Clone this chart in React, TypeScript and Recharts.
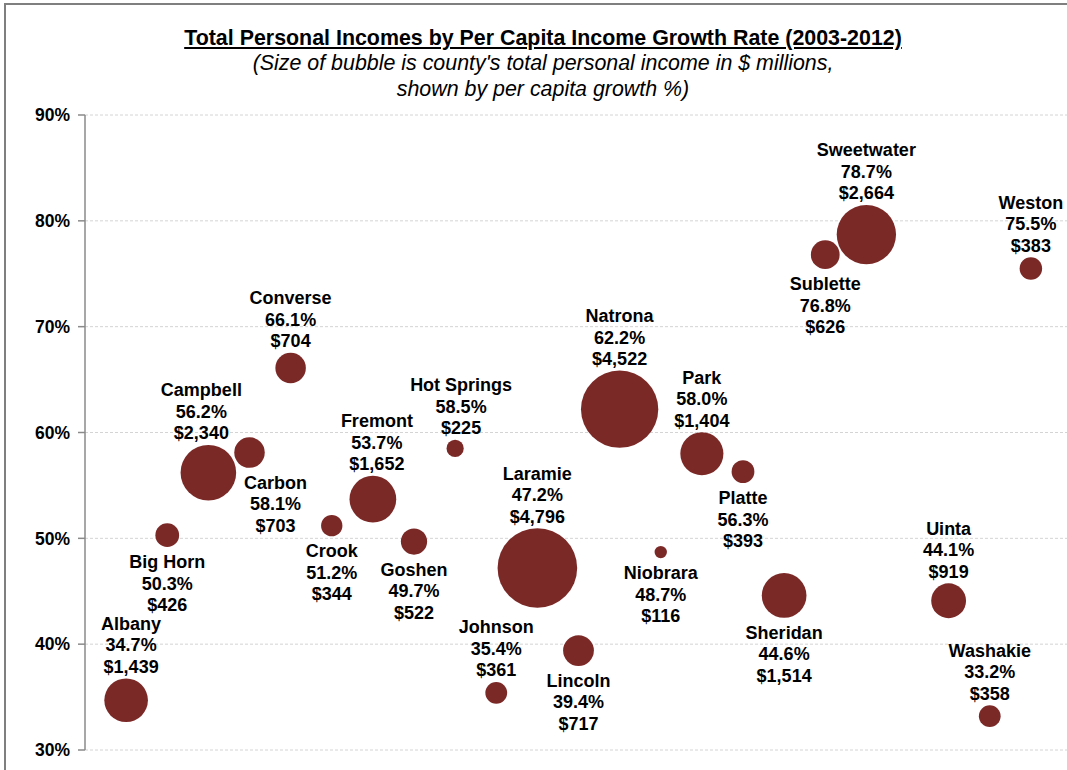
import { ScatterChart, Scatter, XAxis, YAxis, ZAxis, CartesianGrid } from 'recharts'

// Wyoming counties in alphabetical order (Teton not shown in the chart)
const counties = [
  'Albany', 'Big Horn', 'Campbell', 'Carbon', 'Converse', 'Crook', 'Fremont', 'Goshen',
  'Hot Springs', 'Johnson', 'Laramie', 'Lincoln', 'Natrona', 'Niobrara', 'Park', 'Platte',
  'Sheridan', 'Sublette', 'Sweetwater', 'Teton', 'Uinta', 'Washakie', 'Weston',
]

// per capita income growth 2003-2012, %
const growth = [
  34.7, 50.3, 56.2, 58.1, 66.1, 51.2, 53.7, 49.7,
  58.5, 35.4, 47.2, 39.4, 62.2, 48.7, 58.0, 56.3,
  44.6, 76.8, 78.7, null, 44.1, 33.2, 75.5,
]

// total personal income, $ millions
const income = [
  1439, 426, 2340, 703, 704, 344, 1652, 522,
  225, 361, 4796, 717, 4522, 116, 1404, 393,
  1514, 626, 2664, null, 919, 358, 383,
]

const yTicks = [30, 40, 50, 60, 70, 80, 90]

const data = counties
  .map((name, i) => ({ name, x: i + 1, growth: growth[i], income: income[i] }))
  .filter((d) => d.growth != null && d.income != null)

// label placement (which side of the bubble, small horizontal nudges)
const labelBelow = new Set(['Big Horn', 'Carbon', 'Crook', 'Goshen', 'Lincoln', 'Niobrara', 'Platte', 'Sheridan', 'Sublette'])
const labelShift: Record<string, number> = { Albany: 5, Campbell: -7, Carbon: 26, Fremont: 4, 'Hot Springs': 6 }

const BUBBLE = '#7b2927'
const FONT = "'Liberation Sans', Arial, sans-serif"
const MAX_R = 39.8

const Bubble = (props: any) => {
  const { cx, cy, payload } = props
  const r = props.width ? props.width / 2 : Math.sqrt(props.size / Math.PI)
  const lines = [payload.name, `${payload.growth.toFixed(1)}%`, `$${payload.income.toLocaleString('en-US')}`]
  const below = labelBelow.has(payload.name)
  const lx = cx + (labelShift[payload.name] || 0)
  const lh = 21.5
  return (
    <g>
      <circle cx={cx} cy={cy} r={r} fill={BUBBLE} />
      {lines.map((t, i) => {
        const mid = below ? cy + r + 14.5 + lh * i : cy - r - 12 - lh * (2 - i)
        return (
          <text key={i} x={lx} y={mid + 6.5} textAnchor="middle" fontFamily={FONT} fontWeight="bold" fontSize={18} fill="#000">
            {t}
          </text>
        )
      })}
    </g>
  )
}

export default function App() {
  return (
    <div style={{ position: 'fixed', left: 0, top: 0, width: 1067, height: 770, overflow: 'hidden', background: '#fff' }}>
      <div style={{ position: 'absolute', left: 4, top: 3, width: 1200, height: 900, border: '2px solid #7f7f7f' }} />
      <div style={{ position: 'absolute', left: 0, top: 25, width: 1086, textAlign: 'center', fontFamily: FONT, fontWeight: 'bold', fontSize: 21.4, lineHeight: '26px', textDecoration: 'underline' }}>
        Total Personal Incomes by Per Capita Income Growth Rate (2003-2012)
      </div>
      <div style={{ position: 'absolute', left: 0, top: 50, width: 1086, textAlign: 'center', fontFamily: FONT, fontStyle: 'italic', fontSize: 21.4, lineHeight: '26px' }}>
        (Size of bubble is county's total personal income in $ millions,
        <br />
        shown by per capita growth %)
      </div>
      <div style={{ position: 'absolute', left: 0, top: 0 }}>
        <ScatterChart width={1100} height={800} margin={{ top: 115, right: 28, bottom: 50, left: 0 }}>
          <CartesianGrid vertical={false} stroke="#d4d4d4" strokeDasharray="3 2" />
          <XAxis type="number" dataKey="x" domain={[0, 24]} hide />
          <YAxis
            type="number"
            dataKey="growth"
            domain={[30, 90]}
            ticks={yTicks}
            width={85}
            tickFormatter={(v) => `${v}%`}
            tickSize={7}
            tickMargin={8}
            stroke="#8a8a8a"
            strokeWidth={1.5}
            tick={{ fill: '#000', fontFamily: FONT, fontWeight: 'bold', fontSize: 17.5 }}
          />
          <ZAxis type="number" dataKey="income" domain={[0, 4796]} range={[0, Math.PI * MAX_R * MAX_R]} />
          <Scatter data={data} shape={Bubble} isAnimationActive={false} />
        </ScatterChart>
      </div>
    </div>
  )
}
